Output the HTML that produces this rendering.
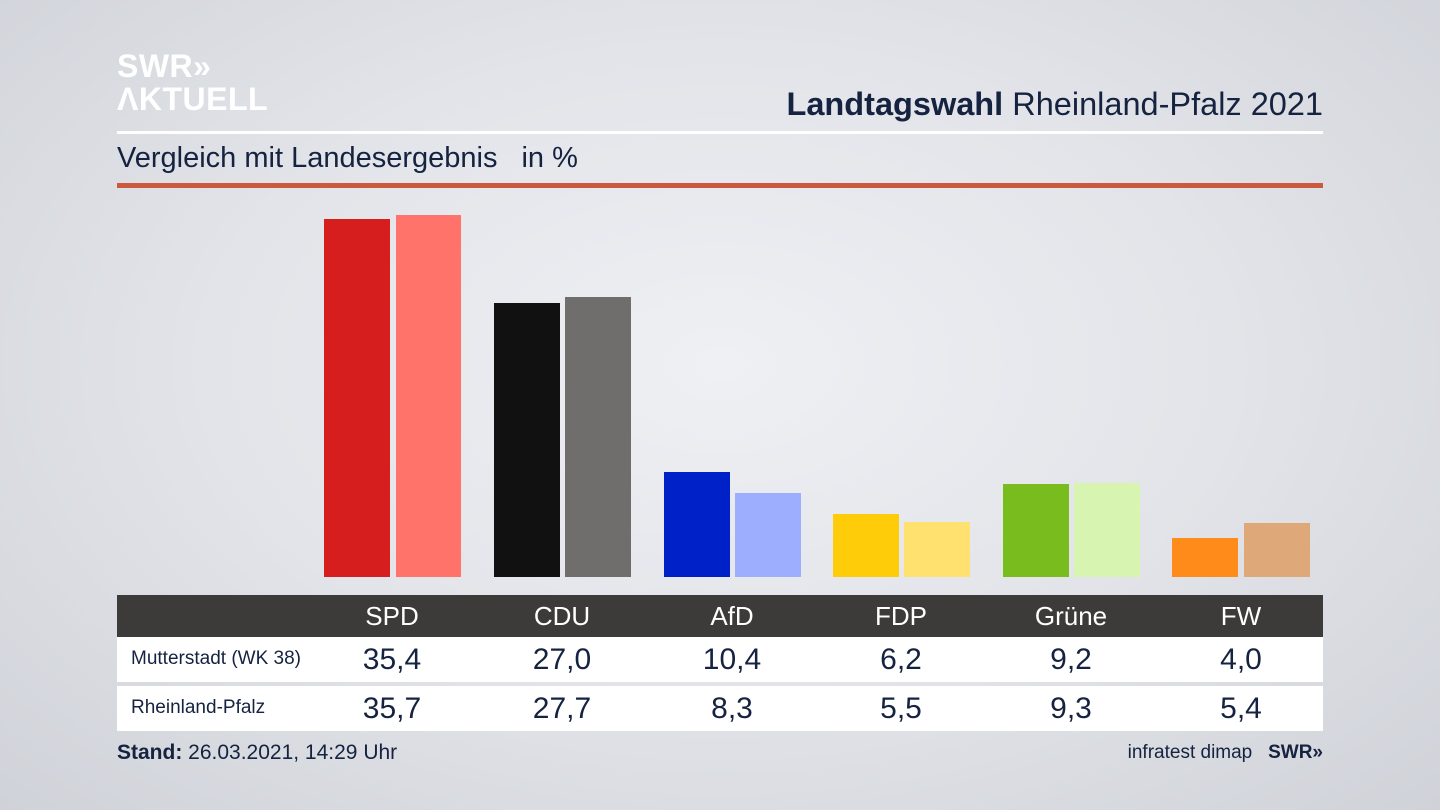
<!DOCTYPE html>
<html><head><meta charset="utf-8"><style>
body{margin:0;width:1440px;height:810px;overflow:hidden;font-family:"Liberation Sans","DejaVu Sans",sans-serif;
background:radial-gradient(ellipse at 50% 45%,#eef0f4 0%,#e2e4e9 50%,#cfd2d8 100%);position:relative;color:#152340}
div{position:absolute}
.b{bottom:233px;width:66px}
.t{text-align:center;width:140px}
</style></head><body>
<div style="left:117px;top:50px;color:#fff;font-weight:bold;font-size:32px;line-height:33px;letter-spacing:0.5px">SWR»<br>ΛKTUELL</div>
<div style="left:700px;width:623px;top:86px;text-align:right;font-size:32.5px"><b>Landtagswahl</b> Rheinland-Pfalz 2021</div>
<div style="left:117px;top:131px;width:1206px;height:3px;background:#fff"></div>
<div style="left:117px;top:142px;font-size:29px">Vergleich mit Landesergebnis<span style="margin-left:24px">in %</span></div>
<div style="left:117px;top:183px;width:1206px;height:5px;background:#cc5840"></div>

<div class="b" style="left:324px;top:219px;background:#d71e1e"></div>
<div class="b" style="left:396px;top:215px;background:#ff736b;width:65px"></div>
<div class="b" style="left:494px;top:303px;background:#111"></div>
<div class="b" style="left:565px;top:297px;background:#706e6c"></div>
<div class="b" style="left:664px;top:472px;background:#0020c8"></div>
<div class="b" style="left:735px;top:493px;background:#9eaeff"></div>
<div class="b" style="left:833px;top:514px;background:#ffcc0a"></div>
<div class="b" style="left:904px;top:522px;background:#ffe170"></div>
<div class="b" style="left:1003px;top:484px;background:#78bc1e"></div>
<div class="b" style="left:1074px;top:483px;background:#d7f5b0"></div>
<div class="b" style="left:1172px;top:538px;background:#ff8c1a"></div>
<div class="b" style="left:1244px;top:523px;background:#dea878"></div>

<div style="left:117px;top:595px;width:1206px;height:42px;background:#3c3b3a"></div>
<div style="left:117px;top:637px;width:1206px;height:45px;background:#fff"></div>
<div style="left:117px;top:686px;width:1206px;height:45px;background:#fff"></div>

<div style="top:598px;left:0;width:1440px;height:36px;color:#fff;font-size:26px;line-height:36px">
<div class="t" style="left:322px">SPD</div><div class="t" style="left:492px">CDU</div><div class="t" style="left:662px">AfD</div>
<div class="t" style="left:831px">FDP</div><div class="t" style="left:1001px">Grüne</div><div class="t" style="left:1171px">FW</div></div>

<div style="left:131px;top:648px;font-size:19px">Mutterstadt (WK 38)</div>
<div style="top:640px;left:0;width:1440px;font-size:30px;line-height:40px">
<div class="t" style="left:322px">35,4</div><div class="t" style="left:492px">27,0</div><div class="t" style="left:662px">10,4</div>
<div class="t" style="left:831px">6,2</div><div class="t" style="left:1001px">9,2</div><div class="t" style="left:1171px">4,0</div></div>

<div style="left:131px;top:697px;font-size:19px">Rheinland-Pfalz</div>
<div style="top:689px;left:0;width:1440px;font-size:30px;line-height:40px">
<div class="t" style="left:322px">35,7</div><div class="t" style="left:492px">27,7</div><div class="t" style="left:662px">8,3</div>
<div class="t" style="left:831px">5,5</div><div class="t" style="left:1001px">9,3</div><div class="t" style="left:1171px">5,4</div></div>

<div style="left:117px;top:741px;font-size:21px"><b>Stand:</b> 26.03.2021, 14:29 Uhr</div>
<div style="left:1000px;width:323px;top:742px;text-align:right;font-size:19px">infratest dimap&nbsp;&nbsp;&nbsp;<b>SWR»</b></div>
</body></html>
